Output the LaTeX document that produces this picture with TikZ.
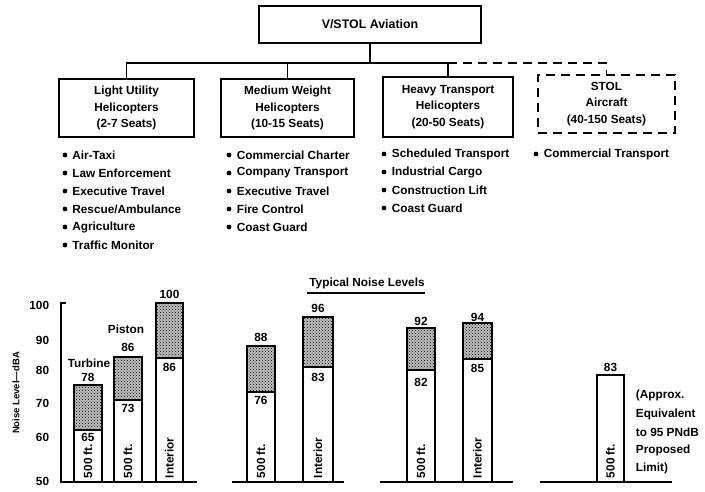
\documentclass[tikz,border=0pt]{standalone}
\usepackage{fontspec}
\setmainfont{Liberation Sans}
\usetikzlibrary{patterns}
\begin{document}
\begin{tikzpicture}[x=1pt,y=-1pt,line width=1.8pt,line join=miter,
  every node/.style={font=\bfseries\fontsize{11.8}{13}\selectfont,inner sep=0pt},
  catbox/.style={draw,line width=1.8pt,align=center,font=\bfseries\fontsize{11.8}{16.5}\selectfont},
  stolbox/.style={catbox,dash pattern=on 9pt off 6pt},
  dashline/.style={dash pattern=on 9pt off 6pt},
  item/.style={anchor=west},
  noisefill/.style={fill=black!25,postaction={pattern=crosshatch dots,pattern color=black}},
  barline/.style={line width=1.8pt},
  boxline/.style={line width=2.6pt},
  baseseg/.style={line width=2.4pt},
  rotlabel/.style={rotate=90,anchor=west}]
\useasboundingbox (0,0) rectangle (705,491);

% ---- hierarchy ----
\node[draw,minimum width=222pt,minimum height=37pt,font=\bfseries\fontsize{12.4}{14}\selectfont] (top) at (370,24.5) {V/STOL Aviation};
\node[catbox,minimum width=135pt,minimum height=58pt] (light) at (126.5,108) {Light Utility\\Helicopters\\(2-7 Seats)};
\node[catbox,minimum width=133pt,minimum height=58pt] (med) at (287.5,108) {Medium Weight\\Helicopters\\(10-15 Seats)};
\node[catbox,minimum width=130pt,minimum height=60pt] (heavy) at (448,107) {Heavy Transport\\Helicopters\\(20-50 Seats)};
\node[stolbox,minimum width=137pt,minimum height=58pt] (stol) at (606.5,104) {STOL\\Aircraft\\(40-150 Seats)};

\coordinate (bus) at (0,63);
\coordinate (jc) at (top.south |- bus);
\coordinate (jl) at (light.north |- bus);
\coordinate (jm) at (med.north |- bus);
\coordinate (jh) at (heavy.north |- bus);
\coordinate (js) at (stol.north |- bus);
\draw (top.south) -- (jc);
\draw (light.north) -- (jl) -- (jh) -- (heavy.north);
\draw (jm) -- (med.north);
\draw[dashline] (jh) -- (js) -- (stol.north);

% ---- lists ----
\foreach \t [count=\i] in {Air-Taxi,Law Enforcement,Executive Travel,Rescue/Ambulance,Agriculture,Traffic Monitor}{
  \fill (65,137+18*\i) circle (2.4);
  \node[item] (la\i) at (71.5,137+18*\i) {\t};}
\foreach \t [count=\i] in {Commercial Charter,Company Transport,Executive Travel,Fire Control,Coast Guard}{
  \fill (229,137+18*\i) circle (2.4);
  \node[item] (ma\i) at (236,137+18*\i) {\t};}
\foreach \t [count=\i] in {Scheduled Transport,Industrial Cargo,Construction Lift,Coast Guard}{
  \fill (384,136+18*\i) circle (2.4);
  \node[item] (ha\i) at (391,136+18*\i) {\t};}
\fill (536,154) circle (2.4);
\node[item] (sa1) at (543,154) {Commercial Transport};

% ---- chart ----
\node (title) at (367,283) {Typical Noise Levels};
\draw[line width=1.5pt] (307,293) -- (425,293);

\node[rotate=90,font=\bfseries\fontsize{9.5}{11}\selectfont] (ylab) at (16,393) {Noise Level---dBA};
\foreach \v/\y in {100/305,90/340,80/370,70/403,60/437,50/481}{
  \node[anchor=east] (t\v) at (50,\y) {\v};}
\draw (61,482) -- (61,303) -- (66,303);

\draw[baseseg] (60,482) -- (197,482);
\draw[baseseg] (232,482) -- (344,482);
\draw[baseseg] (380,482) -- (513,482);
\draw[baseseg] (540,482) -- (672,482);

% bars: x1/x2/top/div/top label y/div label y/top value/div value/text
\foreach \xa/\xb/\tp/\dv/\ly/\dy/\vt/\vd/\txt [count=\i] in {
  74/102/385/430/377/437/78/65/500 ft.,
  114/142/357/400/347/408/86/73/500 ft.,
  156/183/303/358/294/367/100/86/Interior,
  247/275/346/392/337/400/88/76/500 ft.,
  303/333/317/367/308/377/96/83/Interior,
  407/435/328/370/321/382/92/82/500 ft.,
  463/492/323/359/317/368/94/85/Interior}{
  \fill[noisefill] (\xa,\tp) rectangle (\xb,\dv);
  \draw[barline] (\xa,482) -- (\xa,\dv) (\xb,482) -- (\xb,\dv);
  \draw[boxline] (\xa,\tp) rectangle (\xb,\dv);
  \node (bt\i) at ({(\xa+\xb)/2},\ly) {\vt};
  \node (bd\i) at ({(\xa+\xb)/2},\dy) {\vd};
  \node[rotlabel] (br\i) at ({(\xa+\xb)/2},479) {\txt};
}
\draw[barline] (597,482) -- (597,375) -- (624,375) -- (624,482);
\node (bt8) at (610.5,367) {83};
\node[rotlabel] (br8) at (610.5,479) {500 ft.};

\node (turb) at (89,363) {Turbine};
\node (pist) at (126,329) {Piston};

\node[item] (n1) at (635,395) {(Approx.};
\node[item] (n2) at (635,414) {Equivalent};
\node[item] (n3) at (635,432) {to 95 PNdB};
\node[item] (n4) at (635,450) {Proposed};
\node[item] (n5) at (635,468) {Limit)};
\end{tikzpicture}
\end{document}
